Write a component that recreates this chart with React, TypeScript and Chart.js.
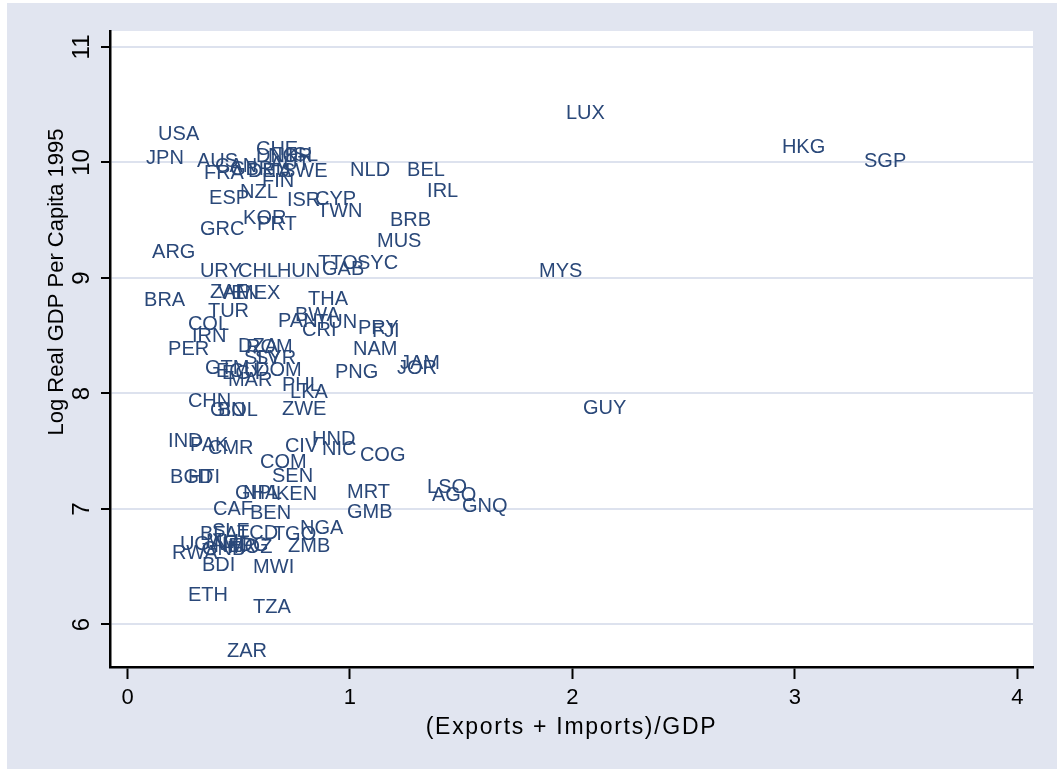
import React, { useEffect, useRef } from "react";
import { Chart, registerables } from "chart.js";

Chart.register(...registerables);

const COUNTRY_CODES = [
  "USA", "JPN", "AUS", "CHE", "DNK", "NOR", "ISL", "AUT", "CAN", "FRA",
  "GBR", "DEU", "ITA", "SWE", "FIN", "NZL", "ESP", "ISR", "CYP", "TWN",
  "KOR", "PRT", "GRC", "NLD", "BEL", "IRL", "BRB", "MUS", "LUX", "HKG",
  "SGP", "MYS", "GUY", "ARG", "URY", "CHL", "HUN", "TTO", "GAB", "SYC",
  "BRA", "ZAF", "VEN", "MEX", "TUR", "THA", "COL", "IRN", "PER", "PAN",
  "BWA", "TUN", "CRI", "PRY", "FJI", "NAM", "PNG", "JAM", "JOR", "DZA",
  "ROM", "SLV", "SYR", "GTM", "ECU", "EGY", "DOM", "MAR", "PHL", "LKA",
  "CHN", "GIN", "BOL", "ZWE", "IND", "PAK", "CMR", "CIV", "HND", "NIC",
  "COG", "COM", "SEN", "BGD", "HTI", "GHA", "NPL", "KEN", "MRT", "LSO",
  "AGO", "GNQ", "GMB", "CAF", "BEN", "NGA", "TGO", "TCD", "SLE", "BFA",
  "UGA", "RWA", "MLI", "NER", "GNB", "MDG", "MOZ", "ZMB", "MWI", "BDI",
  "ETH", "TZA", "ZAR",
];

const OPENNESS = [
  0.124, 0.070, 0.299, 0.564, 0.564, 0.618, 0.708, 0.627, 0.380, 0.330,
  0.447, 0.528, 0.591, 0.681, 0.591, 0.492, 0.353, 0.703, 0.829, 0.838,
  0.506, 0.569, 0.312, 0.987, 1.243, 1.333, 1.166, 1.108, 1.957, 2.928,
  3.297, 1.836, 2.034, 0.097, 0.312, 0.483, 0.658, 0.843, 0.861, 1.018,
  0.061, 0.357, 0.393, 0.479, 0.348, 0.798, 0.258, 0.276, 0.169, 0.663,
  0.739, 0.834, 0.771, 1.022, 1.085, 1.000, 0.919, 1.211, 1.198, 0.483,
  0.519, 0.510, 0.560, 0.335, 0.384, 0.411, 0.560, 0.438, 0.681, 0.717,
  0.258, 0.357, 0.393, 0.681, 0.169, 0.267, 0.348, 0.694, 0.816, 0.861,
  1.031, 0.582, 0.636, 0.178, 0.258, 0.470, 0.506, 0.654, 0.973, 1.333,
  1.355, 1.490, 0.973, 0.371, 0.537, 0.762, 0.640, 0.479, 0.366, 0.312,
  0.222, 0.187, 0.339, 0.375, 0.321, 0.411, 0.438, 0.708, 0.551, 0.321,
  0.258, 0.551, 0.434,
];

const LOG_GDP_1995 = [
  10.256, 10.048, 10.022, 10.126, 10.066, 10.066, 10.074, 9.997, 9.979, 9.919,
  9.953, 9.936, 9.936, 9.936, 9.849, 9.754, 9.702, 9.685, 9.694, 9.590,
  9.529, 9.478, 9.434, 9.945, 9.945, 9.763, 9.512, 9.330, 10.438, 10.144,
  10.022, 9.071, 7.886, 9.235, 9.071, 9.071, 9.071, 9.140, 9.088, 9.140,
  8.820, 8.889, 8.881, 8.881, 8.725, 8.829, 8.612, 8.509, 8.396, 8.638,
  8.690, 8.630, 8.561, 8.578, 8.552, 8.396, 8.197, 8.275, 8.232, 8.422,
  8.414, 8.318, 8.318, 8.232, 8.206, 8.189, 8.215, 8.128, 8.085, 8.024,
  7.946, 7.869, 7.869, 7.877, 7.600, 7.566, 7.540, 7.557, 7.618, 7.531,
  7.479, 7.419, 7.298, 7.289, 7.289, 7.151, 7.151, 7.142, 7.159, 7.202,
  7.133, 7.038, 6.986, 7.012, 6.978, 6.848, 6.796, 6.804, 6.822, 6.796,
  6.709, 6.631, 6.727, 6.692, 6.666, 6.700, 6.683, 6.692, 6.510, 6.528,
  6.268, 6.156, 5.775,
];

const X_TICKS = [0, 1, 2, 3, 4];
const Y_TICKS = [6, 7, 8, 9, 10, 11];
const X_TITLE = "(Exports + Imports)/GDP";
const Y_TITLE = "Log Real GDP Per Capita 1995";

const FONT = '"Liberation Sans", Arial, Helvetica, sans-serif';
const BG = "#e1e5f0";
const LABEL_COLOR = "#2a4879";
const GRID_COLOR = "#dde2ee";

const stataPlugin = {
  id: "stataDecor",
  beforeDraw(chart: any) {
    const { ctx, chartArea, width, height } = chart;
    ctx.save();
    ctx.fillStyle = "#ffffff";
    ctx.fillRect(0, 0, width, height);
    ctx.fillStyle = BG;
    ctx.fillRect(7, 3, width - 10, height - 6);
    ctx.fillStyle = "#ffffff";
    ctx.fillRect(chartArea.left, chartArea.top, chartArea.right - chartArea.left, chartArea.bottom - chartArea.top);
    ctx.restore();
  },
  afterDraw(chart: any) {
    const { ctx, chartArea } = chart;
    const yScale = chart.scales.y;
    ctx.save();
    ctx.fillStyle = "#000000";
    ctx.font = `24px ${FONT}`;
    ctx.textAlign = "center";
    ctx.textBaseline = "middle";
    for (const v of Y_TICKS) {
      const py = yScale.getPixelForValue(v);
      ctx.save();
      ctx.translate(82, py);
      ctx.rotate(-Math.PI / 2);
      ctx.fillText(String(v), 0, 0);
      ctx.restore();
    }
    // axis titles
    ctx.font = `22px ${FONT}`;
    ctx.save();
    ctx.translate(57, 282);
    ctx.rotate(-Math.PI / 2);
    ctx.fillText(Y_TITLE, 0, 0);
    ctx.restore();
    ctx.font = `23px ${FONT}`;
    try { (ctx as any).letterSpacing = "1.7px"; } catch (e) {}
    ctx.fillText(X_TITLE, (chartArea.left + chartArea.right) / 2, 728);
    try { (ctx as any).letterSpacing = "0px"; } catch (e) {}
    ctx.restore();
  },
  afterDatasetsDraw(chart: any) {
    const { ctx } = chart;
    const meta = chart.getDatasetMeta(0);
    ctx.save();
    ctx.fillStyle = LABEL_COLOR;
    ctx.font = `20px ${FONT}`;
    ctx.textAlign = "left";
    ctx.textBaseline = "alphabetic";
    meta.data.forEach((el: any, i: number) => {
      ctx.fillText(COUNTRY_CODES[i], el.x + 3, el.y + 7);
    });
    ctx.restore();
  },
};

export default function App() {
  const canvasRef = useRef<HTMLCanvasElement | null>(null);

  useEffect(() => {
    document.body.style.margin = "0";
    const canvas = canvasRef.current;
    if (!canvas) return;
    const points = OPENNESS.map((x, i) => ({ x, y: LOG_GDP_1995[i] }));
    const chart = new Chart(canvas, {
      type: "scatter",
      data: {
        datasets: [
          {
            label: "countries",
            data: points,
            pointRadius: 0,
            pointHoverRadius: 0,
            backgroundColor: LABEL_COLOR,
          },
        ],
      },
      options: {
        animation: false,
        responsive: false,
        events: [],
        layout: { padding: { left: 0, right: 27, top: 31, bottom: 0 } },
        plugins: {
          legend: { display: false },
          tooltip: { enabled: false },
          title: { display: false },
        },
        scales: {
          x: {
            type: "linear",
            min: -0.0787,
            max: 4.07,
            afterBuildTicks: (s: any) => {
              s.ticks = X_TICKS.map((v) => ({ value: v }));
            },
            afterFit: (s: any) => {
              s.height = 105;
            },
            grid: {
              drawOnChartArea: false,
              drawTicks: true,
              tickLength: 12,
              tickColor: "#000000",
              tickWidth: 2,
            },
            border: { display: true, color: "#000000", width: 2.5 },
            ticks: {
              color: "#000000",
              font: { family: FONT, size: 22 },
              padding: 6,
              maxRotation: 0,
              minRotation: 0,
            },
          },
          y: {
            type: "linear",
            min: 5.632,
            max: 11.138,
            afterBuildTicks: (s: any) => {
              s.ticks = Y_TICKS.map((v) => ({ value: v }));
            },
            afterFit: (s: any) => {
              s.width = 110;
            },
            grid: {
              drawOnChartArea: true,
              color: GRID_COLOR,
              lineWidth: 2,
              drawTicks: true,
              tickLength: 9,
              tickColor: "#000000",
              tickWidth: 2,
            },
            border: { display: true, color: "#000000", width: 2.5 },
            ticks: { display: false },
          },
        },
      },
      plugins: [stataPlugin],
    });
    return () => chart.destroy();
  }, []);

  return (
    <div style={{ width: 1060, height: 772 }}>
      <canvas ref={canvasRef} width={1060} height={772} style={{ display: "block" }} />
    </div>
  );
}
